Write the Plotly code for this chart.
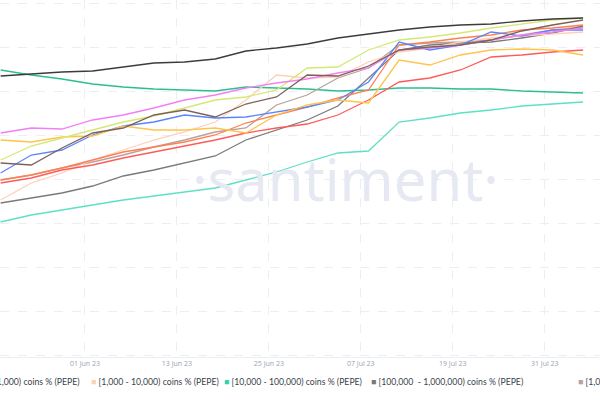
import pandas as pd
import plotly.graph_objects as go

# sampled every 4 days, values read in screen units (axis reversed, hidden)
dates = pd.date_range("2023-05-21", periods=20, freq="4D")

top_dark = [76, 74, 72, 71, 67, 63, 62, 59, 51, 48, 44, 38, 34, 30, 27, 25, 24, 21, 19, 18]
green_dec = [70, 75, 79, 84, 87, 89, 90, 91, 87, 88, 89, 91, 90, 88, 88, 89, 89, 91, 92, 93]
teal_low = [222, 215, 210, 205, 200, 196, 192, 188, 180, 172, 162, 153, 151, 122, 118, 113, 110, 106, 104, 102]
gray_mid = [203, 198, 193, 186, 176, 170, 163, 156, 140, 130, 120, 106, 78, 50, 45, 43, 42, 38, 33, 26]
brown = [163, 165, 148, 133, 128, 115, 110, 117, 104, 97, 75, 76, 66, 50, 47, 45, 40, 31, 25, 20]
taupe = [180, 175, 168, 162, 155, 147, 140, 132, 128, 105, 95, 78, 68, 45, 43, 42, 40, 35, 30, 27]
pink = [133, 128, 129, 120, 115, 108, 100, 95, 88, 83, 79, 73, 68, 50, 48, 45, 40, 35, 32, 28]
lime = [160, 146, 138, 130, 122, 116, 108, 100, 97, 90, 68, 67, 50, 40, 37, 33, 28, 24, 20, 18]
yellow = [140, 142, 137, 136, 126, 130, 130, 128, 133, 115, 105, 100, 103, 60, 65, 55, 50, 49, 50, 55]
blue = [173, 155, 150, 135, 126, 122, 115, 118, 117, 112, 107, 100, 82, 42, 50, 45, 32, 36, 30, 30]
red = [183, 178, 170, 165, 158, 152, 146, 140, 133, 128, 124, 115, 100, 82, 78, 70, 57, 55, 52, 50]
orange_red = [180, 175, 168, 160, 152, 147, 142, 135, 123, 115, 107, 98, 90, 45, 42, 38, 35, 30, 28, 25]
peach = [200, 183, 173, 160, 150, 140, 132, 122, 100, 75, 78, 77, 62, 52, 48, 42, 38, 36, 34, 32]

series = [
    ("[10,000 - 100,000) coins % (PEPE)", teal_low, "#5ee0c4"),
    ("[100 - 1,000) coins % (PEPE)", green_dec, "#2bbf8f"),
    ("[1,000,000 - 10,000,000) coins % (PEPE)", taupe, "#b9a29a"),
    ("[100,000 - 1,000,000) coins % (PEPE)", gray_mid, "#7a7a7a"),
    ("[1,000 - 10,000) coins % (PEPE)", peach, "#ffcfb8"),
    ("red", red, "#ff5a5a"),
    ("orange", orange_red, "#ff7f50"),
    ("blue", blue, "#5a84ff"),
    ("yellow", yellow, "#ffc44d"),
    ("lime", lime, "#d6e873"),
    ("pink", pink, "#f27ff5"),
    ("brown", brown, "#7d6258"),
    ("top", top_dark, "#3c3c3c"),
]

fig = go.Figure()
for name, vals, col in series:
    fig.add_trace(go.Scatter(x=dates, y=vals, mode="lines", name=name,
                             line=dict(color=col, width=1.3), showlegend=False))

fig.add_annotation(text="·santiment·", x=0.575, y=0.50, xref="paper", yref="paper",
                   showarrow=False, font=dict(size=58, color="#e6e9f2", family="Noto Sans"))

legend = [
    (82, "right", "0 - 1,000) coins % (PEPE)", None),
    (89, "left", "[1,000 - 10,000) coins % (PEPE)", "#ffcfb8"),
    (222, "left", "[10,000 - 100,000) coins % (PEPE)", "#2fd3b0"),
    (369, "left", "[100,000  - 1,000,000) coins % (PEPE)", "#777777"),
    (576, "left", "[1,0", "#b9a29a"),
]
for px, anchor, txt, col in legend:
    label = txt if col is None else f"<span style='color:{col}'>■</span> {txt}"
    fig.add_annotation(text=label, x=px / 600, y=-0.09, xref="paper", yref="paper",
                       xanchor=anchor, showarrow=False,
                       font=dict(size=8.7, color="#3a3f4b", family="Lato"))

fig.update_layout(
    width=600, height=400, margin=dict(l=0, r=0, t=0, b=43),
    plot_bgcolor="white", paper_bgcolor="white",
    xaxis=dict(range=["2023-05-20 22:00", "2023-08-07 05:00"], tick0="2023-05-20",
               dtick=12 * 86400000, tickformat="%d %b %y", showgrid=True,
               gridcolor="#eceef3", griddash="dash", tickfont=dict(size=7, color="#9aa3b5"),
               showline=True, linecolor="#eceef3", ticks=""),
    yaxis=dict(range=[357, 0], tick0=311, dtick=44, showgrid=True, gridcolor="#eceef3",
               griddash="dash", showticklabels=False, zeroline=False),
)

fig.write_html("out.html", config={"displayModeBar": False},
               post_script="document.body.style.margin='0';")
